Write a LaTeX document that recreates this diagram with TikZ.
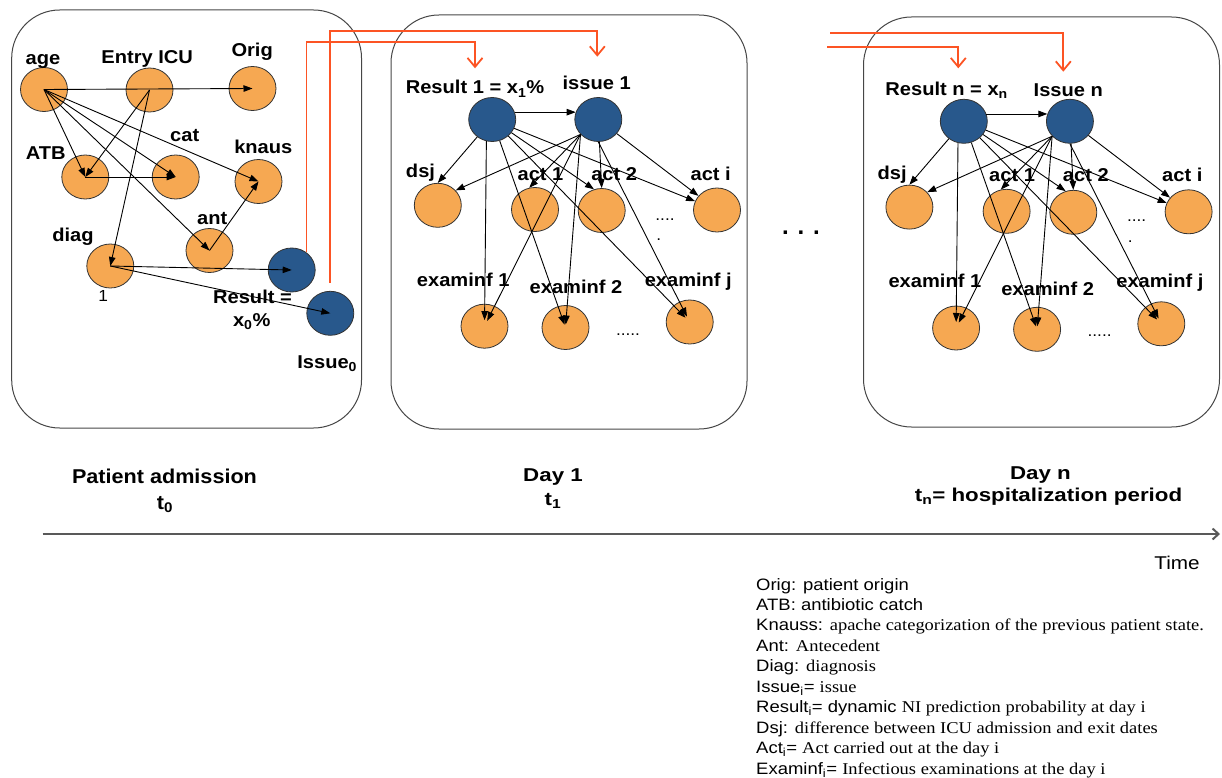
\documentclass[tikz,border=0pt]{standalone}
\usepackage{fontspec}
\setmainfont{Liberation Sans}
\newfontfamily\lblfont{Liberation Sans}[FakeStretch=1.08]
\newfontfamily\dayfont{Liberation Sans}[FakeStretch=1.2]
\newfontfamily\legsans{Liberation Sans}[FakeStretch=1.12]
\newfontfamily\legserif{Liberation Serif}[FakeStretch=1.12]
\usetikzlibrary{arrows.meta,shapes.geometric}

\definecolor{bnorange}{RGB}{246,168,82}
\definecolor{bnblue}{RGB}{40,88,140}
\definecolor{feedred}{RGB}{252,84,36}
\definecolor{framegray}{RGB}{70,70,70}

\tikzset{
  var/.style={ellipse, draw=black!80, line width=0.8pt, fill=bnorange,
    minimum width=47pt, minimum height=44pt, inner sep=0pt},
  outvar/.style={var, fill=bnblue},
  lbl/.style={inner sep=0pt, anchor=base, font=\lblfont\bfseries\fontsize{18.6}{22}\selectfont},
  dots/.style={inner sep=0pt, anchor=base, font=\lblfont\fontsize{16}{18}\selectfont},
  link/.style={draw=black, line width=0.9pt, -{Triangle[length=9pt,width=6.5pt]}},
  feed/.style={draw=feedred, line width=1.8pt, -{Straight Barb[length=9pt,width=15pt]}},
  frame/.style={draw=framegray, line width=1pt, rounded corners=48pt},
  axis/.style={draw=black!65, line width=2pt, -{Straight Barb[length=6pt,width=11pt]}},
  tlbl/.style={inner sep=0pt, anchor=base, font=\lblfont\bfseries\fontsize{20}{22}\selectfont},
  daylbl/.style={inner sep=0pt, anchor=base, font=\dayfont\bfseries\fontsize{18.6}{22}\selectfont},
  leg/.style={inner sep=0pt, anchor=base west, font=\legsans\fontsize{16.5}{20}\selectfont}
}

\begin{document}
\begin{tikzpicture}[x=1pt,y=-1pt]
\useasboundingbox (0,0) rectangle (1222,778);

% time slices
\draw[frame] (11.7,10) rectangle (361.5,428);
\draw[frame] (391,15) rectangle (747,429);
\draw[frame] (863.5,17) rectangle (1219.5,427);

% admission network
\node[var] (age) at (44,89.5) {};
\node[var] (entry) at (149.5,90) {};
\node[var] (orig) at (252.5,88.5) {};
\node[var] (atb) at (85.3,177) {};
\node[var] (cat) at (175.7,177) {};
\node[var] (knaus) at (258.5,181.5) {};
\node[var] (ant) at (209.5,250.5) {};
\node[var] (diag) at (110.3,266) {};
\node[outvar] (res0) at (291.7,270) {};
\node[outvar] (iss0) at (330.3,313.3) {};

\node[lbl] (lage) at (43,65) {age};
\node[lbl] (lentry) at (147.2,64) {Entry ICU};
\node[lbl] (lorig) at (252.2,56.7) {Orig};
\node[lbl] (lcat) at (184.7,141.7) {cat};
\node[lbl] (latb) at (45.8,160) {ATB};
\node[lbl] (lknaus) at (263.3,154) {knaus};
\node[lbl] (lant) at (212.3,224) {ant};
\node[lbl] (ldiag) at (73,241.7) {diag};
\node[dots] (lone) at (103.3,301.7) {1};
\node[lbl] (lres0) at (252.5,303.3) {Result =};
\node[lbl] (lres0b) at (251.7,326) {x\textsubscript{0}\%};
\node[lbl] (liss0) at (327.2,368.3) {Issue\textsubscript{0}};

\foreach \a/\b in {age/orig, age/atb, age/cat, age/knaus, age/ant,
  entry/atb, entry/diag, atb/cat, ant/knaus, diag/res0, diag/iss0}
  \draw[link] (\a.center) -- (\b.center);

% day 1 and day n
\foreach \dx/\dy/\p/\rtxt/\itxt/\ib in {0/0/a/{Result 1 = x\textsubscript{1}\%}/{issue 1}/90,
  471.6/1.8/b/{Result n = x\textsubscript{n}}/{Issue n}/95}{
\begin{scope}[shift={(\dx,\dy)}]
  \node[outvar] (\p-R) at (492.2,119.5) {};
  \node[outvar] (\p-I) at (598.3,119.5) {};
  \node[var] (\p-dsj) at (437.8,205.3) {};
  \node[var] (\p-act1) at (535,209.5) {};
  \node[var] (\p-act2) at (601.7,210.5) {};
  \node[var] (\p-acti) at (717,210) {};
  \node[var] (\p-ex1) at (484.5,326.2) {};
  \node[var] (\p-ex2) at (565.5,327.5) {};
  \node[var] (\p-exj) at (689.7,322) {};

  \node[lbl] (\p-lR) at (475,94) {\rtxt};
  \node[lbl] (\p-lI) at (596.7,\ib) {\itxt};
  \node[lbl] (\p-ldsj) at (420.5,177.3) {dsj};
  \node[lbl] (\p-lact1) at (540.5,180) {act 1};
  \node[lbl] (\p-lact2) at (614.2,180) {act 2};
  \node[lbl] (\p-lacti) at (710.7,180) {act i};
  \node[lbl] (\p-lex1) at (463.3,286) {examinf 1};
  \node[lbl] (\p-lex2) at (576,293.3) {examinf 2};
  \node[lbl] (\p-lexj) at (688.3,286) {examinf j};
  \node[dots] (\p-dota) at (665,220) {....};
  \node[dots] (\p-dotb) at (658.7,240.7) {.};
  \node[dots] (\p-dotc) at (628,335) {.....};

  \draw[link] (\p-R.18) -- (\p-I.162);
  \draw[link] (\p-R) -- (\p-dsj.north);
  \draw[link] (\p-R) -- (\p-act2.110);
  \draw[link] (\p-R) -- (\p-acti);
  \draw[link] (\p-I.220) -- (\p-dsj.40);
  \draw[link] (\p-I.220) -- (\p-act1.105);
  \draw[link] (\p-I) -- (\p-act2.north);
  \draw[link] (\p-I) -- (\p-acti);
  \draw[link, shorten >=6pt] (\p-R.255) -- (\p-ex1.center);
  \draw[link, shorten >=6pt] (\p-I.220) -- (\p-ex1.center);
  \draw[link, shorten >=3pt] (\p-R) -- (\p-ex2.center);
  \draw[link, shorten >=3pt] (\p-I.220) -- (\p-ex2.center);
  \draw[link, shorten >=6pt] (\p-R) -- (\p-exj.center);
  \draw[link, shorten >=6pt] (\p-I.south) -- (\p-exj.center);
\end{scope}
}

\node[inner sep=0pt, anchor=base, font=\bfseries\fontsize{24}{26}\selectfont] (gap) at (801,234) {. . .};

% results carried to the next day
\coordinate (in1) at (475,68.3);
\coordinate (in2) at (597.3,56.7);
\draw[feed] (res0.50) |- (in1 |- 0,41.7) -- (in1);
\draw[feed, shorten <=8pt] (iss0.north) |- (in2 |- 0,30.7) -- (in2);
\coordinate (outa) at (827.3,46.7);
\coordinate (outb) at (830,33.3);
\coordinate (inn1) at (958.3,68.3);
\coordinate (inn2) at (1063.3,71.7);
\draw[feed] (outa) -| (inn1);
\draw[feed] (outb) -| (inn2);

% time line
\node[tlbl] (adm) at (164.5,483.3) {Patient admission};
\node[tlbl] (t0) at (165,509) {t\textsubscript{0}};
\node[daylbl] (day1) at (553,481.7) {Day 1};
\node[daylbl] (t1) at (553,505) {t\textsubscript{1}};
\node[daylbl] (dayn) at (1040.5,479.3) {Day n};
\node[daylbl] (tn) at (1048.5,501.7) {t\textsubscript{n}= hospitalization period};
\coordinate (tstart) at (42.7,534);
\coordinate (tend) at (1220,534);
\draw[axis] (tstart) -- (tend);
\node[inner sep=0pt, anchor=base, font=\legsans\fontsize{18.5}{20}\selectfont] (time) at (1177,569.3) {Time};

% legend
\foreach \txt [count=\k from 0] in {
  {Orig: patient origin},
  {ATB: antibiotic catch},
  {Knauss: {\legserif apache categorization of the previous patient state.}},
  {Ant: {\legserif Antecedent}},
  {Diag: {\legserif diagnosis}},
  {Issue\textsubscript{i}= {\legserif issue}},
  {Result\textsubscript{i}= dynamic {\legserif NI prediction probability at day i}},
  {Dsj: {\legserif difference between ICU admission and exit dates}},
  {Act\textsubscript{i}= {\legserif Act carried out at the day i}},
  {Examinf\textsubscript{i}= {\legserif Infectious examinations at the day i}}}
  \node[leg] (leg\k) at (756,{590+20.49*\k}) {\txt};

\end{tikzpicture}
\end{document}
